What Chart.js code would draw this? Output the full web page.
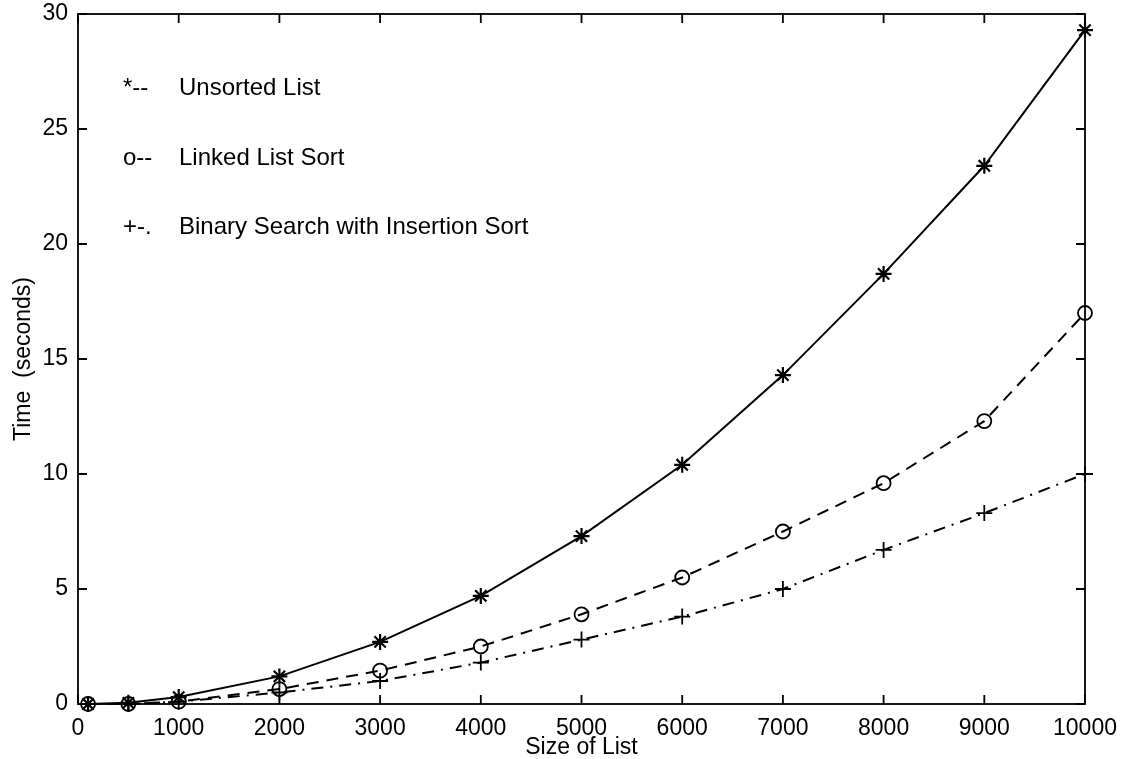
<!DOCTYPE html>
<html>
<head>
<meta charset="utf-8">
<script src="https://cdn.jsdelivr.net/npm/chart.js@4/dist/chart.umd.min.js"></script>
<style>
  html, body { margin: 0; padding: 0; background: #fff; }
  #wrap { width: 1128px; height: 759px; position: relative; }
</style>
</head>
<body>
<div id="wrap"><canvas id="timeChart" width="1128" height="759"></canvas></div>
<script>
// ---- Datos ----
const listSizes   = [100, 500, 1000, 2000, 3000, 4000, 5000, 6000, 7000, 8000, 9000, 10000];
const unsorted    = [0, 0.05, 0.3, 1.2, 2.7, 4.7, 7.3, 10.4, 14.3, 18.7, 23.4, 29.3];
const linkedSort  = [0, 0, 0.1, 0.65, 1.45, 2.5, 3.9, 5.5, 7.5, 9.6, 12.3, 17.0];
const binarySort  = [0, 0, 0.1, 0.5, 1.0, 1.8, 2.8, 3.8, 5.0, 6.7, 8.3, 10.0];
const legendMarks = ['*--', 'o--', '+-.'];
const legendNames = ['Unsorted List', 'Linked List Sort', 'Binary Search with Insertion Sort'];

const FONT = "'Liberation Sans', Arial, sans-serif";
const INK  = '#000';

const toXY = ys => ys.map((y, i) => ({ x: listSizes[i], y }));

// marco + marcas hacia dentro (estilo MATLAB) + leyenda de texto
const framePlugin = {
  id: 'frame',
  afterDatasetsDraw(chart) {
    const { ctx, chartArea: a, scales } = chart;
    const len = 9;
    ctx.save();
    ctx.strokeStyle = INK;
    ctx.lineWidth = 1.8;
    ctx.strokeRect(a.left, a.top, a.right - a.left, a.bottom - a.top);
    ctx.beginPath();
    scales.x.ticks.forEach(t => {
      const px = scales.x.getPixelForValue(t.value);
      ctx.moveTo(px, a.bottom); ctx.lineTo(px, a.bottom - len);
      ctx.moveTo(px, a.top);    ctx.lineTo(px, a.top + len);
    });
    scales.y.ticks.forEach(t => {
      const py = scales.y.getPixelForValue(t.value);
      ctx.moveTo(a.left, py);  ctx.lineTo(a.left + len, py);
      ctx.moveTo(a.right, py); ctx.lineTo(a.right - len, py);
    });
    ctx.stroke();

    ctx.fillStyle = INK;
    ctx.font = '24px ' + FONT;
    ctx.textBaseline = 'middle';
    const rows = [88, 158, 227];
    legendNames.forEach((name, i) => {
      ctx.fillText(legendMarks[i], 123, rows[i]);
      ctx.fillText(name, 179, rows[i]);
    });
    ctx.restore();
  }
};

const baseSet = {
  borderColor: INK,
  borderWidth: 2,
  pointBorderColor: INK,
  pointBackgroundColor: 'transparent',
  pointBorderWidth: 1.8,
  pointRadius: 8,
  tension: 0,
  fill: false,
  clip: false,
};

new Chart(document.getElementById('timeChart').getContext('2d'), {
  type: 'line',
  data: {
    datasets: [
      { ...baseSet, label: legendNames[0], data: toXY(unsorted),   pointStyle: 'star', pointBorderWidth: 2.2 },
      { ...baseSet, label: legendNames[1], data: toXY(linkedSort), pointStyle: 'circle', pointRadius: 7, borderDash: [12, 8] },
      { ...baseSet, label: legendNames[2], data: toXY(binarySort), pointStyle: 'cross', borderDash: [12, 7, 2, 7] },
    ]
  },
  options: {
    responsive: false,
    animation: false,
    events: [],
    layout: { padding: { left: 0, top: 14, right: 43, bottom: 0 } },
    plugins: { legend: { display: false }, tooltip: { enabled: false } },
    scales: {
      x: {
        type: 'linear',
        min: 0, max: 10000,
        grid: { display: false, drawTicks: false },
        border: { display: false },
        ticks: { stepSize: 1000, padding: 11, color: INK, font: { family: FONT, size: 23 }, maxRotation: 0,
                 callback: v => String(v) },
        title: { display: true, text: 'Size of List', color: INK, padding: { top: 0, bottom: 0 },
                 font: { family: FONT, size: 23, lineHeight: 1 } },
        afterFit: s => { s.height = 55; s.paddingLeft = 0; s.paddingRight = 0; }
      },
      y: {
        min: 0, max: 30,
        grid: { display: false, drawTicks: false },
        border: { display: false },
        ticks: { stepSize: 5, padding: 10, color: INK, font: { family: FONT, size: 23 },
                 callback: v => String(v) },
        title: { display: true, text: 'Time  (seconds)', color: INK, padding: { top: 10, bottom: 0 },
                 font: { family: FONT, size: 23, lineHeight: 1.2 } },
        afterFit: s => { s.width = 78; s.paddingTop = 0; s.paddingBottom = 0; }
      }
    }
  },
  plugins: [framePlugin]
});
</script>
</body>
</html>
